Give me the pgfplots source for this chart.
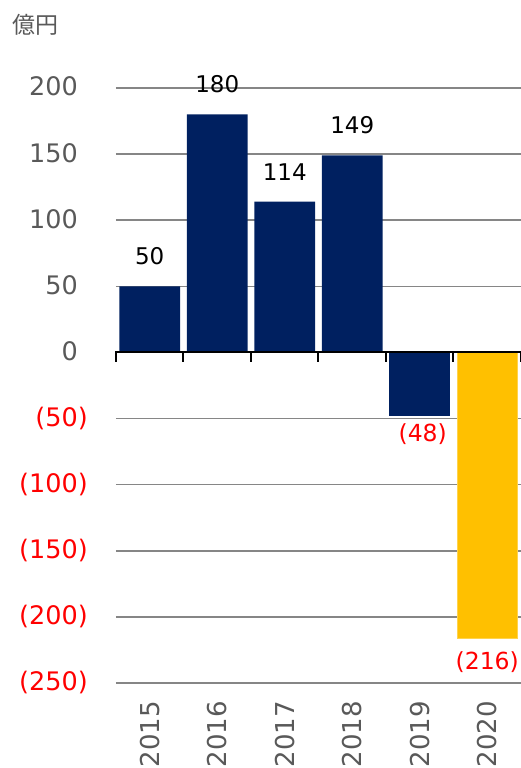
\documentclass[border=0pt]{standalone}
\usepackage{pgfplots}
\pgfplotsset{compat=1.18}
\usepackage{fontspec}
\setmainfont{DejaVu Sans}
\newfontfamily\jp{Noto Sans CJK JP}
\definecolor{navy}{HTML}{002060}
\definecolor{gold}{HTML}{FFC000}
\definecolor{lbl}{HTML}{595959}
\definecolor{gridc}{HTML}{868686}
\begin{document}
\begin{tikzpicture}
\useasboundingbox (-116pt,-85pt) rectangle (405pt,683pt);
\begin{axis}[
  at={(0pt,0pt)}, anchor=south west,
  scale only axis, width=405pt, height=595pt,
  xmin=-0.5, xmax=5.5, ymin=-250, ymax=200,
  clip=false,
  axis line style={draw=none},
  major tick length=0pt,
  ymajorgrids, grid style={gridc, line width=1.6pt},
  ytick={-250,-200,-150,-100,-50,0,50,100,150,200},
  yticklabels={\textcolor{red}{(250)},\textcolor{red}{(200)},\textcolor{red}{(150)},\textcolor{red}{(100)},\textcolor{red}{(50)},0\phantom{)},50\phantom{)},100\phantom{)},150\phantom{)},200\phantom{)}},
  yticklabel style={font=\fontsize{25.5}{30}\selectfont, text=lbl, anchor=east, inner sep=0pt, xshift=-28pt},
  xtick={0,1,2,3,4,5},
  xticklabels={2015,2016,2017,2018,2019,2020},
  xticklabel style={font=\fontsize{26}{30}\selectfont, text=lbl, inner sep=0pt, yshift=-18pt, rotate=90, anchor=east},
]
\addplot[ybar, bar width=0.9, bar shift=0pt, fill=navy, draw=none,
  nodes near coords, point meta=explicit symbolic,
  nodes near coords style={anchor=south, inner sep=0pt, yshift=21pt, text=black, font=\fontsize{23}{27}\selectfont}]
  table[meta=label] {
x y label
0 50 50
1 180 180
2 114 114
3 149 149
};
\addplot[ybar, bar width=0.9, bar shift=0pt, fill=navy, draw=none,
  nodes near coords, point meta=explicit symbolic,
  nodes near coords style={anchor=north, inner sep=0pt, yshift=-8pt, xshift=3pt, text=red, font=\fontsize{23.5}{27}\selectfont}]
  table[meta=label] {
x y label
4 -48 (48)
};
\addplot[ybar, bar width=0.9, bar shift=0pt, fill=gold, draw=gold!70!white,
  nodes near coords, point meta=explicit symbolic,
  nodes near coords style={anchor=north, inner sep=0pt, yshift=-13pt, text=red, font=\fontsize{23.5}{27}\selectfont}]
  table[meta=label] {
x y label
5 -216 (216)
};
\draw[black, line width=2pt] (axis cs:-0.5,0) -- (axis cs:5.5,0);
\pgfplotsinvokeforeach{-0.5,0.5,1.5,2.5,3.5,4.5,5.5}{
  \draw[black, line width=2pt] (axis cs:#1,0) ++(0pt,1pt) -- ++(0pt,-11pt);
}
\end{axis}
\node[text=lbl, font=\jp\fontsize{23}{27}\selectfont, inner sep=0pt] at (-80pt,658pt) {億円};
\end{tikzpicture}
\end{document}
